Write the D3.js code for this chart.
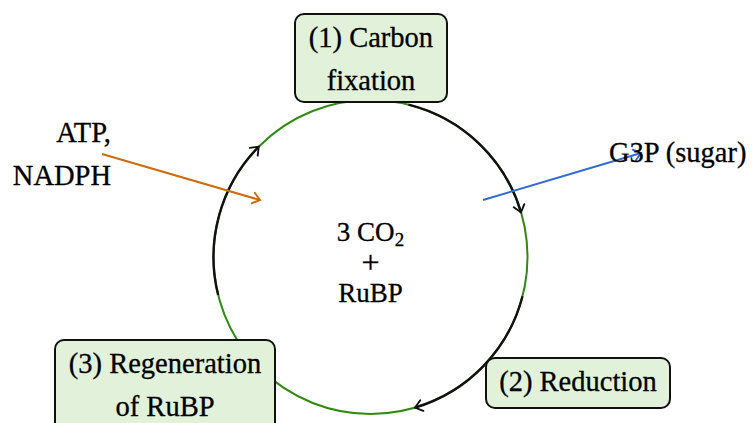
<!DOCTYPE html>
<html>
<head>
<meta charset="utf-8">
<script src="https://cdn.jsdelivr.net/npm/d3@7"></script>
<style>
  body { margin: 0; background: #fff; }
  svg { display: block; }
  text { font-family: "Liberation Serif", "Times New Roman", serif; fill: #000; stroke: #000; stroke-width: 0.3px; }
</style>
</head>
<body>
<svg id="chart" width="752" height="423"></svg>
<script>
// stage labels, one array entry per line
const stageLabels = [
    ["(1) Carbon", "fixation"],
    ["(2) Reduction"],
    ["(3) Regeneration", "of RuBP"]
];
// arrow arcs on the cycle, degrees (0 = right, clockwise)
const arcStarts = [-76, 14.5, 166];
const arcEnds = [-16.5, 73.5, 224.6];
// centre text lines
const centreLines = ["3 CO", "+", "RuBP"];
// inputs / outputs
const inputLabels = ["ATP,", "NADPH"];
const outputLabels = ["G3P (sugar)"];

const svg = d3.select("#chart");
const cx = 370.5, cy = 257, r = 157;
const green = "#2f8a10", boxFill = "#e1f1da";

const ang = d3.scaleLinear().domain([0, 360]).range([0, 2 * Math.PI]);

// arrow heads ("to" style)
const defs = svg.append("defs");
[["black", "#111"], ["orange", "#d06a0a"], ["blue", "#2f6ad9"]].forEach(([id, c]) => {
    defs.append("marker")
        .attr("id", "tip-" + id)
        .attr("viewBox", "-9 -7 11 14")
        .attr("refX", 0).attr("refY", 0)
        .attr("markerWidth", 11).attr("markerHeight", 14)
        .attr("markerUnits", "userSpaceOnUse")
        .attr("orient", "auto")
        .append("path")
        .attr("d", "M-7,-5.5 Q-2,-1.5 0,0 Q-2,1.5 -7,5.5")
        .attr("fill", "none")
        .attr("stroke", c)
        .attr("stroke-width", 1.9)
        .attr("stroke-linecap", "round");
});

// green cycle
svg.append("circle")
    .attr("cx", cx).attr("cy", cy).attr("r", r)
    .attr("fill", "none")
    .attr("stroke", green)
    .attr("stroke-width", 2);

// black arcs with arrows
svg.selectAll("path.cyc")
    .data(arcStarts.map((s, i) => [s, arcEnds[i]]))
    .join("path")
    .attr("class", "cyc")
    .attr("d", d => {
        const p = d3.path();
        p.arc(cx, cy, r, ang(d[0]), ang(d[1]), false);
        return p.toString();
    })
    .attr("fill", "none")
    .attr("stroke", "#111")
    .attr("stroke-width", 2.4)
    .attr("marker-end", "url(#tip-black)");

// input / output arrows
const flows = [
    {from: [102, 154], to: [260, 200], c: "orange"},
    {from: [483, 200], to: [641, 153], c: "blue"}
];
const flowColor = {orange: "#d06a0a", blue: "#2f6ad9"};
svg.selectAll("line.flow")
    .data(flows)
    .join("line")
    .attr("class", "flow")
    .attr("x1", d => d.from[0]).attr("y1", d => d.from[1])
    .attr("x2", d => d.to[0]).attr("y2", d => d.to[1])
    .attr("stroke", d => flowColor[d.c])
    .attr("stroke-width", 2)
    .attr("marker-end", d => "url(#tip-" + d.c + ")");

// stage boxes
const boxes = [
    {x: 295, y: 14, w: 152, h: 88, base: 47},
    {x: 486, y: 358, w: 184, h: 50, base: 391},
    {x: 55, y: 340, w: 220, h: 100, base: 373}
];
const lineGap = 43;
const fs = 28.5;
boxes.forEach((b, i) => {
    svg.append("rect")
        .attr("x", b.x).attr("y", b.y)
        .attr("width", b.w).attr("height", b.h)
        .attr("rx", 9).attr("ry", 9)
        .attr("fill", boxFill)
        .attr("stroke", "#111")
        .attr("stroke-width", 2);
    svg.append("g").selectAll("text")
        .data(stageLabels[i])
        .join("text")
        .attr("x", b.x + b.w / 2)
        .attr("y", (d, j) => b.base + j * lineGap)
        .attr("text-anchor", "middle")
        .style("font-size", fs + "px")
        .text(d => d);
});

// inputs
svg.selectAll("text.inp")
    .data(inputLabels)
    .join("text")
    .attr("class", "inp")
    .attr("x", 111)
    .attr("y", (d, i) => 142 + i * 43)
    .attr("text-anchor", "end")
    .style("font-size", fs + "px")
    .text(d => d);

svg.selectAll("text.out")
    .data(outputLabels)
    .join("text")
    .attr("class", "out")
    .attr("x", 609)
    .attr("y", 162)
    .style("font-size", fs + "px")
    .text(d => d);

// centre text
const cBase = [241, 273, 302];
svg.selectAll("text.ctr")
    .data(centreLines)
    .join("text")
    .attr("class", "ctr")
    .attr("x", cx)
    .attr("y", (d, i) => cBase[i])
    .attr("text-anchor", "middle")
    .style("font-size", (d, i) => i === 1 ? "32px" : "27px")
    .each(function(d, i) {
        const t = d3.select(this);
        if (i === 0) {
            t.append("tspan").text(d);
            t.append("tspan").attr("dy", 5).style("font-size", "19px").text("2");
        } else {
            t.text(d);
        }
    });
</script>
</body>
</html>
